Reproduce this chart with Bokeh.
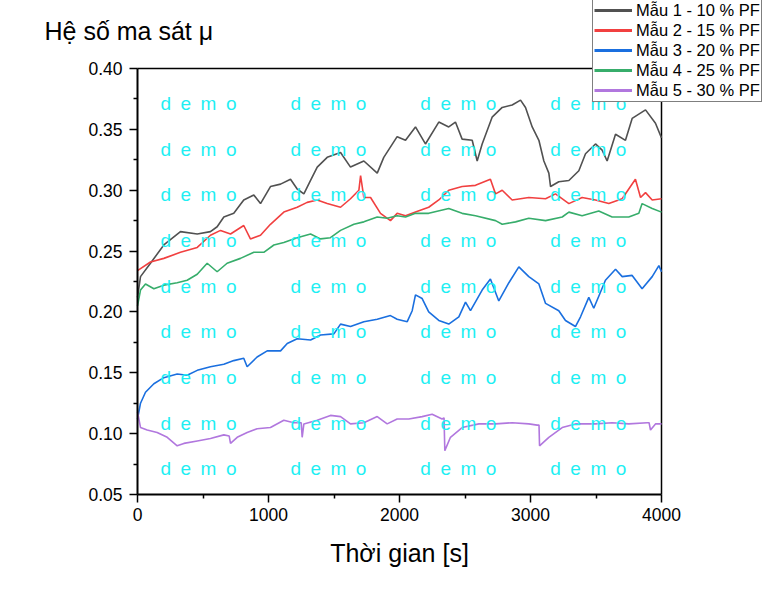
from bokeh.plotting import figure
from bokeh.models import FixedTicker, PrintfTickFormatter, Legend, LegendItem, Label, Range1d
from bokeh.core.properties import value
from bokeh.embed import file_html
from bokeh.resources import INLINE

FONT = "Liberation Sans"

# ---------------- data ----------------
series_names = ["Mẫu 1 - 10 % PF", "Mẫu 2 - 15 % PF", "Mẫu 3 - 20 % PF",
                "Mẫu 4 - 25 % PF", "Mẫu 5 - 30 % PF"]

time_1 = [0, 23, 99, 201, 328, 456, 557, 608, 659, 735, 811, 888, 939, 1015, 1092, 1168,
          1219, 1270, 1321, 1372, 1448, 1550, 1626, 1728, 1830, 1880, 1982, 2046, 2122,
          2198, 2300, 2376, 2427, 2478, 2555, 2593, 2631, 2707, 2784, 2860, 2924, 2962,
          3013, 3064, 3102, 3140, 3153, 3216, 3293, 3369, 3420, 3496, 3547, 3585, 3649,
          3725, 3776, 3878, 3954, 4000]
mu_1 = [0.212, 0.229, 0.240, 0.255, 0.266, 0.264, 0.266, 0.270, 0.278, 0.281, 0.292, 0.296,
        0.289, 0.303, 0.305, 0.309, 0.301, 0.297, 0.308, 0.319, 0.327, 0.331, 0.319, 0.324,
        0.314, 0.327, 0.344, 0.341, 0.352, 0.338, 0.356, 0.352, 0.356, 0.342, 0.341, 0.324,
        0.338, 0.360, 0.368, 0.370, 0.374, 0.368, 0.352, 0.341, 0.324, 0.314, 0.303, 0.307,
        0.308, 0.316, 0.330, 0.338, 0.333, 0.324, 0.346, 0.341, 0.359, 0.366, 0.355, 0.343]

time_2 = [0, 99, 201, 328, 456, 557, 634, 710, 811, 862, 939, 1015, 1117, 1219, 1295, 1372,
          1448, 1550, 1626, 1690, 1703, 1728, 1779, 1855, 1931, 1982, 2046, 2122, 2223, 2300,
          2376, 2478, 2580, 2694, 2733, 2784, 2860, 2987, 3115, 3191, 3293, 3394, 3496, 3598,
          3700, 3763, 3801, 3840, 3878, 3929, 4000]
mu_2 = [0.234, 0.241, 0.244, 0.249, 0.253, 0.263, 0.267, 0.264, 0.271, 0.260, 0.263, 0.272,
        0.282, 0.286, 0.290, 0.292, 0.289, 0.286, 0.293, 0.300, 0.312, 0.294, 0.294, 0.281,
        0.275, 0.281, 0.279, 0.282, 0.286, 0.292, 0.300, 0.303, 0.304, 0.309, 0.297, 0.300,
        0.292, 0.294, 0.293, 0.297, 0.289, 0.294, 0.292, 0.289, 0.293, 0.303, 0.309, 0.294,
        0.298, 0.292, 0.293]

time_3 = [0, 23, 61, 125, 201, 303, 379, 456, 557, 659, 735, 811, 837, 913, 990, 1092, 1143,
          1219, 1321, 1397, 1499, 1550, 1626, 1728, 1830, 1931, 1982, 2059, 2097, 2122, 2173,
          2223, 2300, 2376, 2453, 2504, 2542, 2631, 2694, 2758, 2835, 2911, 2987, 3064, 3115,
          3216, 3267, 3343, 3382, 3445, 3483, 3572, 3649, 3700, 3776, 3852, 3929, 3980, 4000]
mu_3 = [0.112, 0.125, 0.134, 0.141, 0.146, 0.149, 0.148, 0.152, 0.155, 0.157, 0.160, 0.162,
        0.155, 0.163, 0.168, 0.168, 0.174, 0.178, 0.177, 0.181, 0.182, 0.190, 0.188, 0.192,
        0.194, 0.197, 0.194, 0.192, 0.201, 0.214, 0.211, 0.200, 0.193, 0.190, 0.196, 0.208,
        0.201, 0.218, 0.227, 0.209, 0.224, 0.237, 0.229, 0.223, 0.207, 0.201, 0.193, 0.188,
        0.196, 0.212, 0.203, 0.226, 0.235, 0.229, 0.230, 0.219, 0.229, 0.238, 0.233]

time_4 = [0, 23, 61, 125, 201, 303, 379, 456, 532, 608, 684, 786, 888, 964, 1041, 1117, 1219,
          1321, 1397, 1473, 1550, 1652, 1728, 1830, 1906, 1982, 2046, 2122, 2223, 2376, 2478,
          2580, 2733, 2784, 2886, 2987, 3115, 3242, 3293, 3394, 3521, 3623, 3750, 3827, 3852,
          3929, 4000]
mu_4 = [0.205, 0.218, 0.223, 0.219, 0.222, 0.224, 0.226, 0.231, 0.240, 0.233, 0.240, 0.244,
        0.249, 0.249, 0.255, 0.257, 0.261, 0.264, 0.260, 0.261, 0.267, 0.272, 0.274, 0.278,
        0.277, 0.279, 0.278, 0.281, 0.281, 0.285, 0.281, 0.279, 0.275, 0.272, 0.274, 0.277,
        0.275, 0.278, 0.282, 0.279, 0.283, 0.278, 0.278, 0.281, 0.289, 0.285, 0.282]

time_5 = [0, 23, 74, 150, 227, 303, 354, 456, 557, 659, 700, 710, 761, 837, 913, 1015, 1117,
          1193, 1250, 1257, 1270, 1372, 1473, 1550, 1626, 1728, 1830, 1906, 1982, 2071, 2173,
          2249, 2325, 2340, 2346, 2389, 2478, 2606, 2733, 2860, 2987, 3051, 3065, 3069, 3140,
          3242, 3343, 3496, 3623, 3750, 3891, 3905, 3916, 3954, 4000]
mu_5 = [0.118, 0.105, 0.103, 0.101, 0.097, 0.090, 0.092, 0.094, 0.096, 0.099, 0.098, 0.092,
        0.097, 0.101, 0.104, 0.105, 0.111, 0.109, 0.109, 0.097, 0.108, 0.111, 0.115, 0.114,
        0.108, 0.109, 0.114, 0.108, 0.112, 0.112, 0.114, 0.116, 0.112, 0.113, 0.086, 0.097,
        0.105, 0.108, 0.108, 0.109, 0.108, 0.107, 0.107, 0.090, 0.097, 0.105, 0.108, 0.108,
        0.109, 0.108, 0.109, 0.109, 0.103, 0.108, 0.108]

x_ticks = [0, 1000, 2000, 3000, 4000]
x_minor = [500, 1500, 2500, 3500]
y_ticks = [0.05, 0.10, 0.15, 0.20, 0.25, 0.30, 0.35, 0.40]
y_minor = [0.075, 0.125, 0.175, 0.225, 0.275, 0.325, 0.375]

y_title = "Hệ số ma sát μ"
x_title = "Thời gian [s]"
watermark = "d\u2002e\u2002m\u2002o"

colors = ["#515151", "#F14040", "#1A6FDF", "#37AD6B", "#B177DE"]

# ---------------- layout geometry (canvas pixels) ----------------
W, H = 766, 592
BOX_L, BOX_R, BOX_T, BOX_B = 137, 661, 68, 494   # where the axes box sits

x0, x1 = x_ticks[0], x_ticks[-1]
y0, y1 = y_ticks[0], y_ticks[-1]
ux = (x1 - x0) / (BOX_R - BOX_L)
uy = (y1 - y0) / (BOX_B - BOX_T)

p = figure(width=W, height=H, output_backend="svg", toolbar_location=None,
           x_range=Range1d(x0 - BOX_L * ux, x1 + (W - BOX_R) * ux),
           y_range=Range1d(y0 - (H - BOX_B) * uy, y1 + BOX_T * uy),
           min_border=0)
p.title.visible = False
p.grid.visible = False
p.outline_line_color = None
p.background_fill_color = "white"
p.border_fill_color = "white"

for ax in (p.xaxis[0], p.yaxis[0]):
    ax.axis_line_width = 2
    ax.major_tick_line_width = 1.5
    ax.minor_tick_line_width = 1.5
    ax.major_tick_in = 0
    ax.major_tick_out = 8
    ax.minor_tick_in = 0
    ax.minor_tick_out = 4
    ax.major_label_text_font = FONT
    ax.major_label_text_font_size = "17.5px"
    ax.major_label_text_color = "black"

p.xaxis[0].ticker = FixedTicker(ticks=x_ticks, minor_ticks=x_minor)
p.xaxis[0].fixed_location = y0
p.xaxis[0].bounds = (x0, x1)
p.xaxis[0].major_label_standoff = 5

p.yaxis[0].ticker = FixedTicker(ticks=y_ticks, minor_ticks=y_minor)
p.yaxis[0].formatter = PrintfTickFormatter(format="%.2f")
p.yaxis[0].fixed_location = x0
p.yaxis[0].bounds = (y0, y1)
p.yaxis[0].major_label_standoff = 7

# top and right sides of the box
p.segment(x0=[x0, x1], y0=[y1, y0], x1=[x1, x1], y1=[y1, y1],
          line_color="black", line_width=1.5)

# data lines
all_t = [time_1, time_2, time_3, time_4, time_5]
all_mu = [mu_1, mu_2, mu_3, mu_4, mu_5]
for t, mu, c in zip(all_t, all_mu, colors):
    p.line(t, mu, line_color=c, line_width=1.6)

# watermark grid
wm_x, wm_y = [], []
for r in range(9):
    for c in range(4):
        wm_x.append(x0 + 175 + c * 992)
        wm_y.append(0.3712 - r * 0.0375)
p.text(x=wm_x, y=wm_y, text=[watermark] * len(wm_x), text_font=value(FONT),
       text_font_size="19px", text_color="#1EEFF3", text_align="left",
       text_baseline="middle")

# titles
p.add_layout(Label(x=44, y=H - 30, x_units="screen", y_units="screen", text=y_title,
                   text_font=FONT, text_font_size="25px", text_align="left",
                   text_baseline="middle", text_color="black"))
p.add_layout(Label(x=(BOX_L + BOX_R) / 2, y=H - 552, x_units="screen", y_units="screen",
                   text=x_title, text_font=FONT, text_font_size="25px",
                   text_align="center", text_baseline="middle", text_color="black"))

# legend: sample renderers hold a single point (draws nothing) but give a thick key line
items = []
for name, c, t, mu in zip(series_names, colors, all_t, all_mu):
    r = p.line(x=[t[0]], y=[mu[0]], line_color=c, line_width=3)
    items.append(LegendItem(label=name, renderers=[r]))
legend = Legend(items=items, location=(592, H - 102), label_text_font=FONT,
                label_text_font_size="16.5px", label_text_color="black",
                glyph_width=38, glyph_height=20,
                label_height=20, spacing=0, padding=1, margin=0, label_standoff=4,
                border_line_color="black", border_line_width=1,
                background_fill_color="white", background_fill_alpha=1)
p.add_layout(legend)

open("out.html", "w").write(file_html(p, INLINE))
